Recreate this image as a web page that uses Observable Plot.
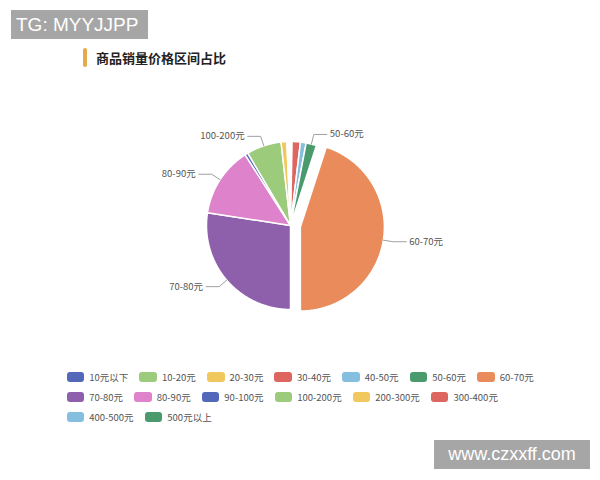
<!DOCTYPE html>
<html><head><meta charset="utf-8">
<script src="https://cdn.jsdelivr.net/npm/d3@7"></script>
<script src="https://cdn.jsdelivr.net/npm/@observablehq/plot@0.6"></script>
<style>
body{margin:0;width:600px;height:480px;background:#fff;position:relative;font-family:"Noto Sans CJK SC","Noto Sans",sans-serif;overflow:hidden}
.wm{position:absolute;background:#a6a6a6;color:#fff;font-family:"Liberation Sans",Arial,sans-serif;white-space:nowrap}
#wm1{left:11px;top:10px;width:137px;height:29px;font-size:19px;line-height:29px;padding-left:5px;box-sizing:border-box}
#wm2{left:434px;top:440px;width:156px;height:29px;font-size:18px;line-height:29px;text-align:center}
#title{position:absolute;left:83px;top:47px;height:20px;display:flex;align-items:center}
#title .bar{width:4px;height:19px;background:#e9a84c;border-radius:2px;margin-right:9px}
#title span{font-size:13px;font-weight:bold;color:#222}
#chart{position:absolute;left:0;top:90px}
#legend{position:absolute;left:66.5px;top:371.5px;width:480px;display:flex;flex-wrap:wrap;column-gap:11px;row-gap:9px}
.item{display:flex;align-items:center;height:11px;font-size:9.5px;color:#555;white-space:nowrap}
.sw{width:17.7px;height:9.5px;border-radius:3px;margin-right:5px}
</style>
</head><body>
<div class="wm" id="wm1">TG: MYYJJPP</div>
<div id="title"><div class="bar"></div><span>商品销量价格区间占比</span></div>
<div id="chart"></div>
<div id="legend"></div>
<div class="wm" id="wm2">www.czxxff.com</div>
<script>
const names = ["10元以下","10-20元","20-30元","30-40元","40-50元","50-60元","60-70元","70-80元","80-90元","90-100元","100-200元","200-300元","300-400元","400-500元","500元以上"];
const values = [0.1, 0.1, 0.1, 1.6, 1.1, 2.0, 45.1, 27.5, 13.5, 0.6, 6.7, 1.1, 0.3, 0.2, 0.2];
const colors = ["#5468b9","#9ccb7c","#f0c85e","#dd6661","#84bfdf","#4a9a6e","#e98b5b","#8e5fab","#dd82cb","#5468b9","#9ccb7c","#f0c85e","#dd6661","#84bfdf","#4a9a6e"];
const labeled = ["100-200元","50-60元","80-90元","70-80元","60-70元"];
const selectedName = "60-70元";

const R = 84, OFFSET = 10, LEN1 = 10, LEN2 = 13;

const arcs = d3.pie().sort(null).value(d => d.value)(names.map((n, i) => ({name: n, value: values[i]})));
const slicePts = [], leaderPts = [], labelPts = [];
arcs.forEach(a => {
  const name = a.data.name;
  const mid = (a.startAngle + a.endAngle) / 2;
  const off = name === selectedName ? OFFSET : 0;
  const cx = off * Math.sin(mid), cy = off * Math.cos(mid);
  slicePts.push({name, x: cx, y: cy});
  const n = Math.max(2, Math.ceil((a.endAngle - a.startAngle) / 0.01));
  for (let k = 0; k <= n; k++) {
    const t = a.startAngle + (a.endAngle - a.startAngle) * k / n;
    slicePts.push({name, x: cx + R * Math.sin(t), y: cy + R * Math.cos(t)});
  }
  if (labeled.includes(name)) {
    const side = Math.sin(mid) >= 0 ? 1 : -1;
    const p1 = {x: cx + R * Math.sin(mid), y: cy + R * Math.cos(mid)};
    const p2 = {x: cx + (R + LEN1) * Math.sin(mid), y: cy + (R + LEN1) * Math.cos(mid)};
    const p3 = {x: p2.x + side * LEN2, y: p2.y};
    leaderPts.push({name, ...p1}, {name, ...p2}, {name, ...p3});
    labelPts.push({name, side, x: p3.x + side * 3, y: p3.y});
  }
});

const plot = Plot.plot({
  width: 600, height: 250,
  margin: 0,
  x: {domain: [-290, 310], axis: null},
  y: {domain: [-115, 135], axis: null},
  color: {domain: names, range: colors},
  style: {fontFamily: '"Noto Sans CJK SC","Noto Sans",sans-serif', fontSize: "9.5px", background: "transparent"},
  marks: [
    Plot.line(slicePts, {x: "x", y: "y", z: "name", fill: "name", stroke: "#fff", strokeWidth: 1.5, strokeLinejoin: "round", curve: "linear-closed"}),
    Plot.line(leaderPts, {x: "x", y: "y", z: "name", stroke: "#a0a0a0", strokeWidth: 1}),
    Plot.text(labelPts.filter(d => d.side > 0), {x: "x", y: "y", text: "name", textAnchor: "start", fill: "#555", fontSize: 9.5}),
    Plot.text(labelPts.filter(d => d.side < 0), {x: "x", y: "y", text: "name", textAnchor: "end", fill: "#555", fontSize: 9.5})
  ]
});
document.getElementById("chart").appendChild(plot);

const color = plot.scale("color");
const legend = document.getElementById("legend");
color.domain.forEach((n, i) => {
  const item = document.createElement("div");
  item.className = "item";
  const sw = document.createElement("div");
  sw.className = "sw";
  sw.style.background = color.range[i];
  const tx = document.createElement("span");
  tx.textContent = n;
  item.appendChild(sw); item.appendChild(tx);
  legend.appendChild(item);
});
</script>
</body></html>
